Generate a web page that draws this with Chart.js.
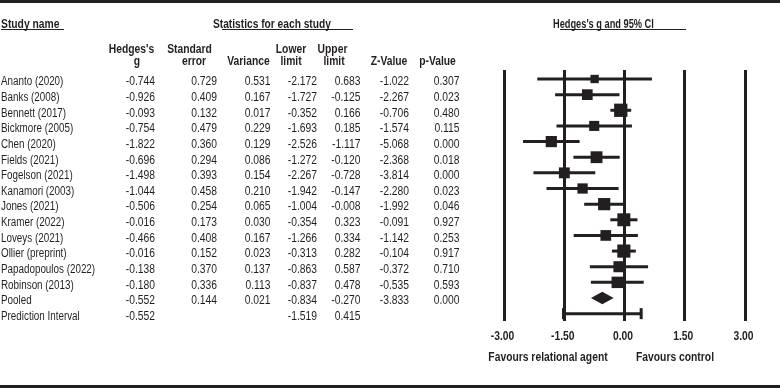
<!DOCTYPE html>
<html>
<head>
<meta charset="utf-8">
<script src="https://cdn.jsdelivr.net/npm/chart.js@4"></script>
<style>
  html, body { margin: 0; padding: 0; background: #fff; }
  #wrap { width: 780px; height: 388px; position: relative; }
</style>
</head>
<body>
<div id="wrap"><canvas id="c" width="780" height="388"></canvas></div>
<script>
// ---------------- DATA ----------------
const studies = ['Ananto (2020)','Banks (2008)','Bennett (2017)','Bickmore (2005)','Chen (2020)','Fields (2021)','Fogelson (2021)','Kanamori (2003)','Jones (2021)','Kramer (2022)','Loveys (2021)','Ollier (preprint)','Papadopoulos (2022)','Robinson (2013)'];
const hedgesG  = [-0.744,-0.926,-0.093,-0.754,-1.822,-0.696,-1.498,-1.044,-0.506,-0.016,-0.466,-0.016,-0.138,-0.180];
const stdError = [0.729,0.409,0.132,0.479,0.360,0.294,0.393,0.458,0.254,0.173,0.408,0.152,0.370,0.336];
const variance = [0.531,0.167,0.017,0.229,0.129,0.086,0.154,0.210,0.065,0.030,0.167,0.023,0.137,0.113];
const lowerLim = [-2.172,-1.727,-0.352,-1.693,-2.526,-1.272,-2.267,-1.942,-1.004,-0.354,-1.266,-0.313,-0.863,-0.837];
const upperLim = [0.683,-0.125,0.166,0.185,-1.117,-0.120,-0.728,-0.147,-0.008,0.323,0.334,0.282,0.587,0.478];
const zValue   = [-1.022,-2.267,-0.706,-1.574,-5.068,-2.368,-3.814,-2.280,-1.992,-0.091,-1.142,-0.104,-0.372,-0.535];
const pValue   = [0.307,0.023,0.480,0.115,0.000,0.018,0.000,0.023,0.046,0.927,0.253,0.917,0.710,0.593];
// relative study weights (%)
const weights  = [2.9,6.0,10.7,5.1,6.8,7.9,6.3,5.4,8.6,10.0,6.0,10.4,6.6,7.2];
const pooled     = { label: 'Pooled', g: -0.552, se: 0.144, v: 0.021, lo: -0.834, hi: -0.270, z: -3.833, p: 0.000 };
const prediction = { label: 'Prediction Interval', g: -0.552, lo: -1.519, hi: 0.415 };
const xTicks = [-3.00, -1.50, 0.00, 1.50, 3.00];
const favourLabels = ['Favours relational agent', 'Favours control'];
const headerTitles = ['Study name', 'Statistics for each study', "Hedges's g and 95% CI"];

// ---------------- STYLE ----------------
const INK = '#231f20';
const SX = 0.86;
const FONT = '"Liberation Sans", Arial, sans-serif';

const nS = studies.length;
const rowPooled = nS, rowPred = nS + 1;

const datasets = [];
// squares
datasets.push({
  type: 'scatter',
  data: hedgesG.map((g, i) => ({ x: g, y: i })),
  pointStyle: 'rect',
  pointRadius: weights.map(w => (2.9 + 3.18 * Math.sqrt(w)) / 1.4142),
  pointHoverRadius: weights.map(w => (2.9 + 3.18 * Math.sqrt(w)) / 1.4142),
  backgroundColor: INK, borderWidth: 0, pointBorderWidth: 0,
  showLine: false, clip: false
});
// CI lines
studies.forEach((s, i) => {
  datasets.push({
    type: 'scatter', showLine: true,
    data: [{ x: lowerLim[i], y: i }, { x: upperLim[i], y: i }],
    borderColor: INK, borderWidth: 3, pointRadius: 0, clip: false
  });
});
// prediction interval line + caps
datasets.push({
  type: 'scatter', showLine: true,
  data: [{ x: prediction.lo, y: rowPred }, { x: prediction.hi, y: rowPred }],
  borderColor: INK, borderWidth: 3, pointRadius: 0, clip: false
});
datasets.push({
  type: 'scatter', showLine: false,
  data: [{ x: prediction.lo, y: rowPred }, { x: prediction.hi, y: rowPred }],
  pointStyle: 'line', rotation: 90, pointRadius: 5.5, pointHoverRadius: 5.5,
  borderColor: INK, borderWidth: 3, pointBorderWidth: 3, clip: false
});

function txt(ctx, s, x, y, align, bold, sx) {
  ctx.save();
  ctx.font = (bold ? 'bold ' : '') + '12px ' + FONT;
  ctx.fillStyle = INK;
  ctx.textAlign = align;
  ctx.textBaseline = 'alphabetic';
  ctx.translate(x, y);
  ctx.scale(sx || SX, 1);
  ctx.fillText(s, 0, 0);
  ctx.restore();
}
function fmt(v) { return (v === null || v === undefined) ? '' : v.toFixed(3); }

const framePlugin = {
  id: 'frame',
  beforeDraw(chart) {
    const ctx = chart.ctx;
    ctx.save();
    ctx.fillStyle = '#fff';
    ctx.fillRect(0, 0, chart.width, chart.height);
    ctx.fillStyle = INK;
    ctx.fillRect(0, 0, chart.width, 3);
    ctx.fillRect(0, chart.height - 3, chart.width, 3);
    ctx.restore();
  }
};

const tablePlugin = {
  id: 'table',
  afterDraw(chart) {
    const ctx = chart.ctx, xs = chart.scales.x, ys = chart.scales.y;
    // diamond for pooled estimate
    const yc = ys.getPixelForValue(rowPooled);
    const yt = ys.getPixelForValue(rowPooled - 0.4), yb = ys.getPixelForValue(rowPooled + 0.4);
    ctx.save();
    ctx.fillStyle = INK;
    ctx.beginPath();
    ctx.moveTo(xs.getPixelForValue(pooled.lo), yc);
    ctx.lineTo(xs.getPixelForValue(pooled.g), yt);
    ctx.lineTo(xs.getPixelForValue(pooled.hi), yc);
    ctx.lineTo(xs.getPixelForValue(pooled.g), yb);
    ctx.closePath();
    ctx.fill();
    ctx.restore();

    // headers
    txt(ctx, headerTitles[0], 1, 28, 'left', true);
    txt(ctx, headerTitles[1], 213, 28, 'left', true, 0.85);
    txt(ctx, headerTitles[2], 553, 28, 'left', true, 0.77);
    ctx.save(); ctx.fillStyle = INK;
    ctx.fillRect(1, 29, 63, 1);
    ctx.fillRect(222, 29, 131, 1);
    ctx.fillRect(560, 29, 126, 1);
    ctx.restore();
    const h1 = [["Hedges's", 131.5], ['Standard', 189.5], ['Lower', 291], ['Upper', 332.5]];
    const h2 = [['g', 137], ['error', 194], ['Variance', 248.5], ['limit', 291], ['limit', 334], ['Z-Value', 389], ['p-Value', 437.5]];
    h1.forEach(([s, x]) => txt(ctx, s, x, 53, 'center', true));
    h2.forEach(([s, x]) => txt(ctx, s, x, 65, 'center', true));

    // rows
    const cols = [155, 217, 270.5, 317, 360.5, 409, 459.5];
    const rows = studies.map((s, i) => [s, hedgesG[i], stdError[i], variance[i], lowerLim[i], upperLim[i], zValue[i], pValue[i]]);
    rows.push([pooled.label, pooled.g, pooled.se, pooled.v, pooled.lo, pooled.hi, pooled.z, pooled.p]);
    rows.push([prediction.label, prediction.g, null, null, prediction.lo, prediction.hi, null, null]);
    rows.forEach((r, i) => {
      const y = ys.getPixelForValue(i) + 6.3;
      txt(ctx, r[0], 1, y, 'left', false, 0.82);
      for (let c = 1; c < r.length; c++) txt(ctx, fmt(r[c]), cols[c - 1], y, 'right', false);
    });

    // x tick labels and direction labels
    xTicks.forEach(t => txt(ctx, t.toFixed(2), xs.getPixelForValue(t) - 1.5, 340, 'center', true));
    txt(ctx, favourLabels[0], 548, 361, 'center', true);
    txt(ctx, favourLabels[1], 675, 361, 'center', true);
  }
};

new Chart(document.getElementById('c'), {
  data: { datasets },
  options: {
    responsive: false,
    animation: false,
    events: [],
    layout: { padding: { left: 504, right: 35, top: 70, bottom: 67 } },
    plugins: { legend: { display: false }, tooltip: { enabled: false } },
    scales: {
      x: {
        type: 'linear', min: -3, max: 3,
        afterBuildTicks: (s) => { s.ticks = xTicks.map(v => ({ value: v })); },
        ticks: { display: false },
        grid: { color: INK, lineWidth: 3, drawTicks: false },
        border: { display: false },
        afterFit: (s) => { s.height = 0; }
      },
      y: {
        type: 'linear', display: false, reverse: true,
        min: -0.575, max: 15.47
      }
    }
  },
  plugins: [framePlugin, tablePlugin]
});
</script>
</body>
</html>
